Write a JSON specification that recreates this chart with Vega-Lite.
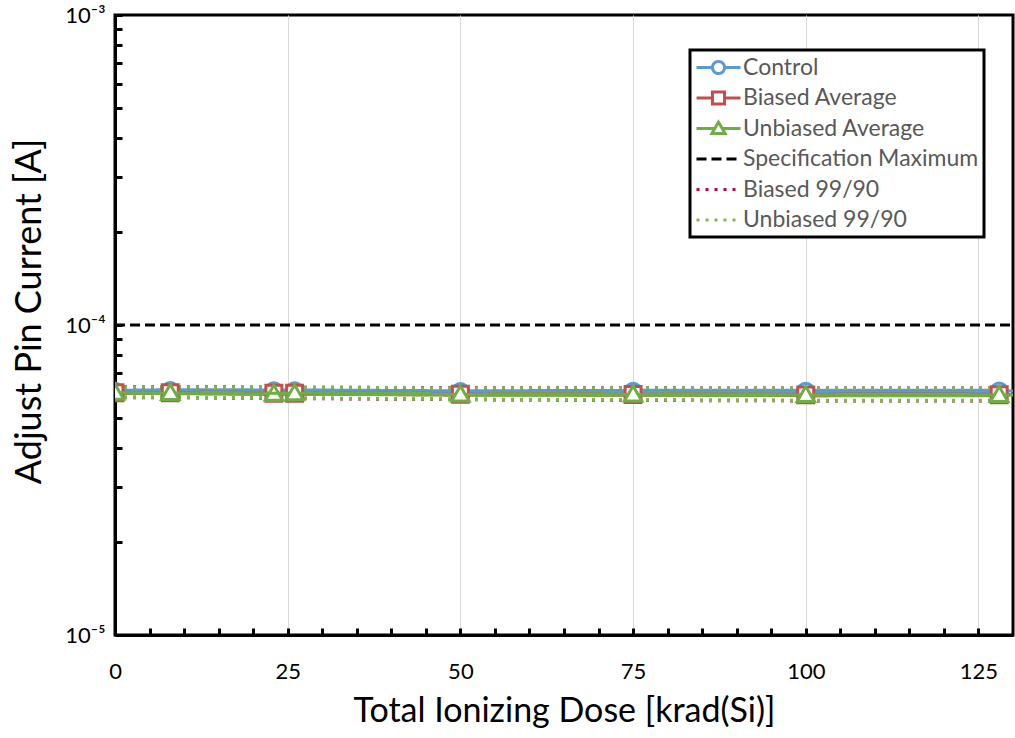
{
  "$schema": "https://vega.github.io/schema/vega-lite/v6.json",
  "width": 898,
  "height": 620,
  "autosize": "none",
  "padding": {"left": 115, "top": 15, "right": 2, "bottom": 103},
  "background": "white",
  "config": {
    "view": {"stroke": "black", "strokeWidth": 3},
    "font": "Lato",
    "legend": {"strokeWidth": 3}
  },
  "datasets": {
    "main": [
      {"series": "Control", "dose": 0, "current": 0.0000612},
      {"series": "Control", "dose": 8, "current": 0.0000615},
      {"series": "Control", "dose": 23, "current": 0.0000614},
      {"series": "Control", "dose": 26, "current": 0.0000614},
      {"series": "Control", "dose": 50, "current": 0.000061},
      {"series": "Control", "dose": 75, "current": 0.0000612},
      {"series": "Control", "dose": 100, "current": 0.0000612},
      {"series": "Control", "dose": 128, "current": 0.0000613},
      {"series": "Biased Average", "dose": 0, "current": 0.0000605},
      {"series": "Biased Average", "dose": 8, "current": 0.0000605},
      {"series": "Biased Average", "dose": 23, "current": 0.0000602},
      {"series": "Biased Average", "dose": 26, "current": 0.0000602},
      {"series": "Biased Average", "dose": 50, "current": 0.0000598},
      {"series": "Biased Average", "dose": 75, "current": 0.0000597},
      {"series": "Biased Average", "dose": 100, "current": 0.0000595},
      {"series": "Biased Average", "dose": 128, "current": 0.0000596},
      {"series": "Unbiased Average", "dose": 0, "current": 0.0000605},
      {"series": "Unbiased Average", "dose": 8, "current": 0.0000604},
      {"series": "Unbiased Average", "dose": 23, "current": 0.00006},
      {"series": "Unbiased Average", "dose": 26, "current": 0.0000602},
      {"series": "Unbiased Average", "dose": 50, "current": 0.0000597},
      {"series": "Unbiased Average", "dose": 75, "current": 0.0000597},
      {"series": "Unbiased Average", "dose": 100, "current": 0.0000595},
      {"series": "Unbiased Average", "dose": 128, "current": 0.0000595}
    ],
    "bounds": [
      {"series": "Biased 99/90", "bound": "upper", "dose": 0, "current": 0.0000632},
      {"series": "Biased 99/90", "bound": "upper", "dose": 8, "current": 0.0000631},
      {"series": "Biased 99/90", "bound": "upper", "dose": 23, "current": 0.000063},
      {"series": "Biased 99/90", "bound": "upper", "dose": 26, "current": 0.0000629},
      {"series": "Biased 99/90", "bound": "upper", "dose": 50, "current": 0.0000627},
      {"series": "Biased 99/90", "bound": "upper", "dose": 75, "current": 0.0000626},
      {"series": "Biased 99/90", "bound": "upper", "dose": 100, "current": 0.0000625},
      {"series": "Biased 99/90", "bound": "upper", "dose": 128, "current": 0.0000625},
      {"series": "Biased 99/90", "bound": "lower", "dose": 0, "current": 0.0000584},
      {"series": "Biased 99/90", "bound": "lower", "dose": 8, "current": 0.0000584},
      {"series": "Biased 99/90", "bound": "lower", "dose": 23, "current": 0.000058},
      {"series": "Biased 99/90", "bound": "lower", "dose": 26, "current": 0.000058},
      {"series": "Biased 99/90", "bound": "lower", "dose": 50, "current": 0.0000575},
      {"series": "Biased 99/90", "bound": "lower", "dose": 75, "current": 0.0000572},
      {"series": "Biased 99/90", "bound": "lower", "dose": 100, "current": 0.000057},
      {"series": "Biased 99/90", "bound": "lower", "dose": 128, "current": 0.000057},
      {"series": "Unbiased 99/90", "bound": "upper", "dose": 0, "current": 0.0000631},
      {"series": "Unbiased 99/90", "bound": "upper", "dose": 8, "current": 0.0000631},
      {"series": "Unbiased 99/90", "bound": "upper", "dose": 23, "current": 0.0000629},
      {"series": "Unbiased 99/90", "bound": "upper", "dose": 26, "current": 0.0000629},
      {"series": "Unbiased 99/90", "bound": "upper", "dose": 50, "current": 0.0000626},
      {"series": "Unbiased 99/90", "bound": "upper", "dose": 75, "current": 0.0000626},
      {"series": "Unbiased 99/90", "bound": "upper", "dose": 100, "current": 0.0000625},
      {"series": "Unbiased 99/90", "bound": "upper", "dose": 128, "current": 0.0000625},
      {"series": "Unbiased 99/90", "bound": "lower", "dose": 0, "current": 0.0000585},
      {"series": "Unbiased 99/90", "bound": "lower", "dose": 8, "current": 0.0000584},
      {"series": "Unbiased 99/90", "bound": "lower", "dose": 23, "current": 0.0000581},
      {"series": "Unbiased 99/90", "bound": "lower", "dose": 26, "current": 0.0000581},
      {"series": "Unbiased 99/90", "bound": "lower", "dose": 50, "current": 0.0000576},
      {"series": "Unbiased 99/90", "bound": "lower", "dose": 75, "current": 0.0000573},
      {"series": "Unbiased 99/90", "bound": "lower", "dose": 100, "current": 0.0000571},
      {"series": "Unbiased 99/90", "bound": "lower", "dose": 128, "current": 0.0000571}
    ],
    "spec": [
      {"series": "Specification Maximum", "dose": 0, "current": 0.0001},
      {"series": "Specification Maximum", "dose": 130, "current": 0.0001}
    ]
  },
  "encoding": {
    "x": {
      "field": "dose",
      "type": "quantitative",
      "scale": {"type": "linear", "domain": [0, 130], "nice": false, "zero": false},
      "axis": {
        "title": "Total Ionizing Dose [krad(Si)]",
        "values": [0, 5, 10, 15, 20, 25, 30, 35, 40, 45, 50, 55, 60, 65, 70, 75, 80, 85, 90, 95, 100, 105, 110, 115, 120, 125],
        "labelExpr": "datum.value % 25 === 0 ? datum.label : ''",
        "grid": true,
        "gridColor": "#d9d9d9",
        "gridWidth": 1,
        "gridOpacity": {"condition": {"test": "datum.value % 25 === 0 && datum.value > 0", "value": 1}, "value": 0},
        "domainColor": "black",
        "domainWidth": 3,
        "tickColor": "black",
        "tickWidth": 3,
        "tickSize": -7,
        "labelFont": "Lato",
        "labelFontSize": 22,
        "labelColor": "black",
        "labelPadding": 33,
        "labelFlush": false,
        "labelOverlap": false,
        "titleFont": "Lato",
        "titleFontSize": 34,
        "titleFontWeight": "normal",
        "titleColor": "black",
        "titlePadding": 12
      }
    },
    "y": {
      "field": "current",
      "type": "quantitative",
      "scale": {"type": "log", "domain": [0.00001, 0.001], "nice": false},
      "axis": {
        "title": "Adjust Pin Current [A]",
        "values": [0.00001, 0.00002, 0.00003, 0.00004, 0.00005, 0.00006, 0.00007, 0.00008, 0.00009, 0.0001, 0.0002, 0.0003, 0.0004, 0.0005, 0.0006, 0.0007, 0.0008, 0.0009, 0.001],
        "labelExpr": "datum.value == 0.001 ? '10⁻³' : datum.value == 0.0001 ? '10⁻⁴' : datum.value == 0.00001 ? '10⁻⁵' : ''",
        "grid": false,
        "domainColor": "black",
        "domainWidth": 3,
        "tickColor": "black",
        "tickWidth": 3,
        "tickSize": -7,
        "labelFont": "Lato",
        "labelFontSize": 22,
        "labelColor": "black",
        "labelPadding": 17,
        "labelFlush": false,
        "labelOverlap": false,
        "titleFont": "Lato",
        "titleFontSize": 36,
        "titleFontWeight": "normal",
        "titleColor": "black",
        "titlePadding": 16,
        "titleY": 296
      }
    }
  },
  "layer": [
    {
      "data": {"name": "main"},
      "mark": {"type": "line", "strokeWidth": 4.5},
      "encoding": {
        "color": {
          "field": "series",
          "type": "nominal",
          "scale": {
            "domain": ["Control", "Biased Average", "Unbiased Average", "Specification Maximum", "Biased 99/90", "Unbiased 99/90"],
            "range": ["#5B9BD5", "#C0504D", "#70AD47", "#000000", "#C0004E", "#7CB74E"]
          },
          "legend": {
            "orient": "none",
            "legendX": 575,
            "legendY": 35,
            "title": null,
            "padding": 5,
            "rowPadding": 5.5,
            "labelOffset": 12,
            "symbolOffset": 11,
            "labelLimit": 400,
            "labelFont": "Lato",
            "labelFontSize": 23,
            "labelColor": "#595959",
            "strokeColor": "black",
            "fillColor": "white",
            "symbolSize": 484,
            "symbolStrokeWidth": 3,
            "symbolFillColor": "white"
          }
        },
        "strokeDash": {
          "field": "series",
          "type": "nominal",
          "scale": {
            "domain": ["Control", "Biased Average", "Unbiased Average", "Specification Maximum", "Biased 99/90", "Unbiased 99/90"],
            "range": [[1, 0], [1, 0], [1, 0], [10, 5], [3, 6], [3, 6]]
          }
        }
      }
    },
    {
      "data": {"name": "bounds"},
      "mark": {"type": "line", "strokeWidth": 3.5},
      "encoding": {
        "color": {"field": "series", "type": "nominal"},
        "strokeDash": {"field": "series", "type": "nominal"},
        "detail": {"field": "bound", "type": "nominal"}
      }
    },
    {
      "data": {"name": "spec"},
      "mark": {"type": "line", "strokeWidth": 3},
      "encoding": {
        "color": {"field": "series", "type": "nominal"},
        "strokeDash": {"field": "series", "type": "nominal"}
      }
    },
    {
      "data": {"name": "main"},
      "mark": {"type": "point", "filled": false, "fill": "white", "strokeWidth": 3, "size": 841, "opacity": 1, "clip": true},
      "encoding": {
        "color": {"field": "series", "type": "nominal"},
        "shape": {
          "field": "series",
          "type": "nominal",
          "scale": {
            "domain": ["Control", "Biased Average", "Unbiased Average", "Specification Maximum", "Biased 99/90", "Unbiased 99/90"],
            "range": [
              "M-2,0H-0.55M0.55,0H2M-0.55,0A0.55,0.55,0,1,1,0.55,0A0.55,0.55,0,1,1,-0.55,0Z",
              "M-2,0H-0.55M0.55,0H2M-0.55,-0.55H0.55V0.55H-0.55Z",
              "M-2,0H-0.33M0.33,0H2M0,-0.58L0.6,0.45H-0.6Z",
              "M-2,0H2",
              "M-2,0H2",
              "M-2,0H2"
            ]
          }
        }
      }
    }
  ]
}
